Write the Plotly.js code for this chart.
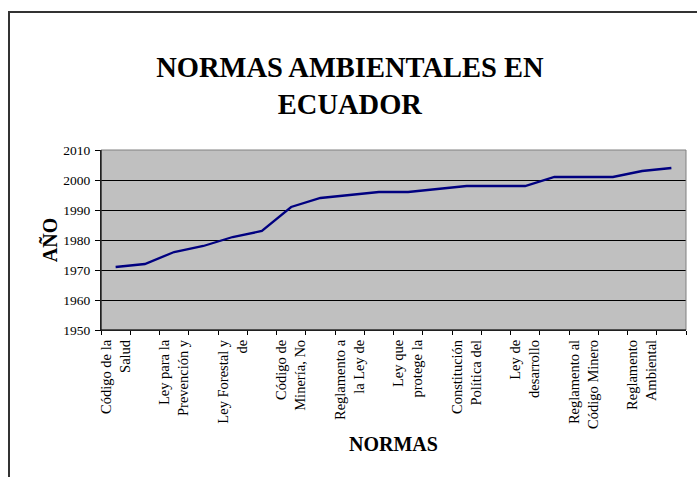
<!DOCTYPE html>
<html>
<head>
<meta charset="utf-8">
<script src="https://cdn.plot.ly/plotly-3.0.1.min.js"></script>
<style>html,body{margin:0;padding:0;background:#fff;}#chart{width:697px;height:477px;}</style>
</head>
<body>
<div id="chart"></div>
<script>
// Norm index (1..20) and year of each norm
const normas = [1,2,3,4,5,6,7,8,9,10,11,12,13,14,15,16,17,18,19,20];
const anios = [1971,1972,1976,1978,1981,1983,1991,1994,1995,1996,1996,1997,1998,1998,1998,2001,2001,2001,2003,2004];
// Visible tick labels (every second norm)
const etiquetasPos = [1,3,5,7,9,11,13,15,17,19];
const etiquetas = [
  "Código de la<br>Salud",
  "Ley para la<br>Prevención y",
  "Ley Forestal y<br>de",
  "Código de<br>Minería, No",
  "Reglamento a<br>la Ley de",
  "Ley que<br>protege la",
  "Constitución<br>Política del",
  "Ley de<br>desarrollo",
  "Reglamento al<br>Código Minero",
  "Reglamento<br>Ambiental"
];
const bordes = [];
for (let i = 0; i <= normas.length; i++) bordes.push(i + 0.5);

const serif = "'Liberation Serif', 'Times New Roman', serif";

const trace = {
  x: normas, y: anios, type: 'scatter', mode: 'lines',
  line: {color: '#000080', width: 2.3}, xaxis: 'x', yaxis: 'y', hoverinfo: 'x+y'
};
const dummy = {x: [1], y: [null], xaxis: 'x2', yaxis: 'y', showlegend: false, hoverinfo: 'skip'};

const layout = {
  width: 697, height: 477,
  paper_bgcolor: '#fff', plot_bgcolor: '#C0C0C0',
  margin: {l: 101, r: 11, t: 150, b: 147},
  showlegend: false,
  title: {
    text: '<b>NORMAS AMBIENTALES EN<br>ECUADOR</b>',
    font: {family: serif, size: 28.5, color: '#000'},
    x: 0.502, xanchor: 'center', y: 0.839, yanchor: 'middle', yref: 'container'
  },
  xaxis: {
    range: [0.5, 20.5], tickmode: 'array', tickvals: bordes, ticktext: bordes.map(() => ''),
    ticks: 'outside', ticklen: 4, tickcolor: '#000', tickwidth: 1,
    showgrid: false, zeroline: false, showline: true, linecolor: '#000', linewidth: 1,
    title: {text: '<b>NORMAS</b>', font: {family: serif, size: 20, color: '#000'}, standoff: 100}
  },
  xaxis2: {
    overlaying: 'x', range: [0.5, 20.5], side: 'bottom', anchor: 'y',
    tickmode: 'array', tickvals: etiquetasPos, ticktext: etiquetas,
    tickangle: -90, ticks: '', showgrid: false, zeroline: false, showline: false,
    tickfont: {family: serif, size: 14.5, color: '#000'}, ticklabelstandoff: 6
  },
  yaxis: {
    range: [1950, 2010], dtick: 10, tick0: 1950,
    ticks: 'outside', ticklen: 5, tickcolor: '#000', tickwidth: 1,
    showgrid: true, gridcolor: '#000', gridwidth: 1, zeroline: false,
    showline: true, linecolor: '#000', linewidth: 1,
    tickfont: {family: serif, size: 13.5, color: '#000'}, ticklabelstandoff: 2,
    title: {text: '<b>AÑO</b>', font: {family: serif, size: 20, color: '#000'}, standoff: 0}
  },
  shapes: [
    {type: 'rect', xref: 'paper', yref: 'paper', x0: 0, x1: 1, y0: 0, y1: 1,
     line: {color: '#808080', width: 1}, fillcolor: 'rgba(0,0,0,0)', layer: 'above'},
    {type: 'line', xref: 'paper', yref: 'paper', x0: 0, x1: 0, y0: 0, y1: 1,
     line: {color: '#000', width: 1}, layer: 'above'},
    {type: 'line', xref: 'paper', yref: 'paper', x0: 0, x1: 1, y0: 0, y1: 0,
     line: {color: '#000', width: 1}, layer: 'above'}
  ]
};

Plotly.newPlot('chart', [trace, dummy], layout, {displayModeBar: false, staticPlot: true});
</script>
<div style="position:absolute;left:8px;top:11px;width:720px;height:500px;border-left:2px solid #333;border-top:2px solid #333;pointer-events:none;box-sizing:border-box;"></div>
</body>
</html>
